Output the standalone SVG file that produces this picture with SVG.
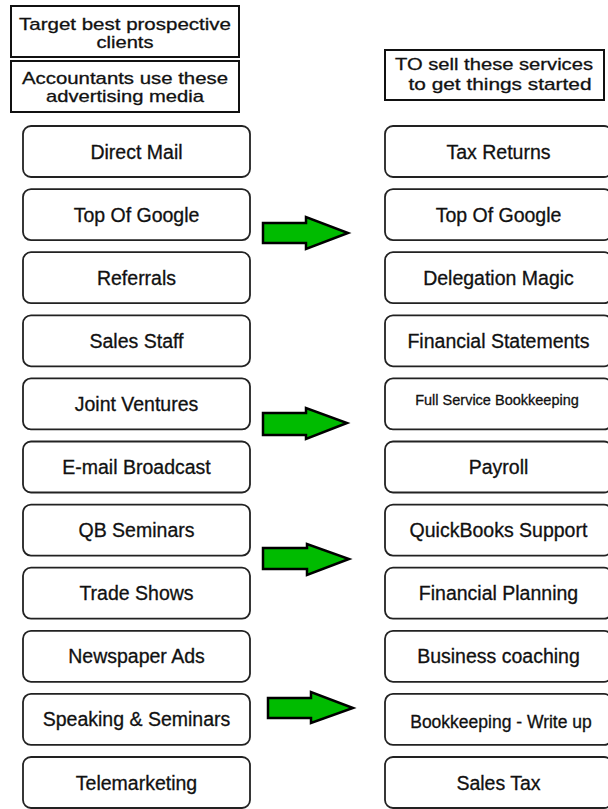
<svg xmlns="http://www.w3.org/2000/svg" width="608" height="809" viewBox="0 0 608 809">
<style>
.hdr{fill:#fff;stroke:#111;stroke-width:2}
.box{fill:#fff;stroke:#222;stroke-width:1.8}
text{font-family:"Liberation Sans",Arial,sans-serif;fill:#111;stroke:#111;stroke-width:0.3;text-anchor:middle}
.t{font-size:19.5px}
.h{font-size:17px}
.arr{fill:#00bb00;stroke:#000;stroke-width:2.5;stroke-linejoin:miter}
</style>
<rect width="608" height="809" fill="#fff"/>
<g id="header-left-1">
<rect class="hdr" x="11" y="6" width="228" height="51"/>
<text class="h" x="125" y="30" textLength="212" lengthAdjust="spacingAndGlyphs">Target best prospective</text>
<text class="h" x="125" y="48" textLength="57" lengthAdjust="spacingAndGlyphs">clients</text>
</g>
<g id="header-left-2">
<rect class="hdr" x="11" y="61" width="228" height="51"/>
<text class="h" x="125" y="84" textLength="206" lengthAdjust="spacingAndGlyphs">Accountants use these</text>
<text class="h" x="125" y="102" textLength="158" lengthAdjust="spacingAndGlyphs">advertising media</text>
</g>
<g id="header-right">
<rect class="hdr" x="385" y="50" width="219" height="50"/>
<text class="h" x="494" y="70" textLength="198" lengthAdjust="spacingAndGlyphs">TO sell these services</text>
<text class="h" x="500" y="90" textLength="183" lengthAdjust="spacingAndGlyphs">to get things started</text>
</g>
<g id="left-nodes">
<g id="l1"><rect class="box" x="23" y="126" width="227" height="51" rx="8"/><text class="t" x="136.5" y="158.5">Direct Mail</text></g>
<g id="l2"><rect class="box" x="23" y="189.1" width="227" height="51" rx="8"/><text class="t" x="136.5" y="221.6">Top Of Google</text></g>
<g id="l3"><rect class="box" x="23" y="252.2" width="227" height="51" rx="8"/><text class="t" x="136.5" y="284.7">Referrals</text></g>
<g id="l4"><rect class="box" x="23" y="315.3" width="227" height="51" rx="8"/><text class="t" x="136.5" y="347.8">Sales Staff</text></g>
<g id="l5"><rect class="box" x="23" y="378.4" width="227" height="51" rx="8"/><text class="t" x="136.5" y="410.9">Joint Ventures</text></g>
<g id="l6"><rect class="box" x="23" y="441.5" width="227" height="51" rx="8"/><text class="t" x="136.5" y="474">E-mail Broadcast</text></g>
<g id="l7"><rect class="box" x="23" y="504.6" width="227" height="51" rx="8"/><text class="t" x="136.5" y="537.1">QB Seminars</text></g>
<g id="l8"><rect class="box" x="23" y="567.7" width="227" height="51" rx="8"/><text class="t" x="136.5" y="600.2">Trade Shows</text></g>
<g id="l9"><rect class="box" x="23" y="630.8" width="227" height="51" rx="8"/><text class="t" x="136.5" y="663.3">Newspaper Ads</text></g>
<g id="l10"><rect class="box" x="23" y="693.9" width="227" height="51" rx="8"/><text class="t" x="136.5" y="726.4">Speaking &amp; Seminars</text></g>
<g id="l11"><rect class="box" x="23" y="757" width="227" height="51" rx="8"/><text class="t" x="136.5" y="789.5">Telemarketing</text></g>
</g>
<g id="right-nodes">
<g id="r1"><rect class="box" x="385" y="126" width="227" height="51" rx="8"/><text class="t" x="498.5" y="158.5">Tax Returns</text></g>
<g id="r2"><rect class="box" x="385" y="189.1" width="227" height="51" rx="8"/><text class="t" x="498.5" y="221.6">Top Of Google</text></g>
<g id="r3"><rect class="box" x="385" y="252.2" width="227" height="51" rx="8"/><text class="t" x="498.5" y="284.7">Delegation Magic</text></g>
<g id="r4"><rect class="box" x="385" y="315.3" width="227" height="51" rx="8"/><text class="t" x="498.5" y="347.8">Financial Statements</text></g>
<g id="r5"><rect class="box" x="385" y="378.4" width="227" height="51" rx="8"/><text x="497" y="405" style="font-size:14.5px">Full Service Bookkeeping</text></g>
<g id="r6"><rect class="box" x="385" y="441.5" width="227" height="51" rx="8"/><text class="t" x="498.5" y="474">Payroll</text></g>
<g id="r7"><rect class="box" x="385" y="504.6" width="227" height="51" rx="8"/><text class="t" x="498.5" y="537.1">QuickBooks Support</text></g>
<g id="r8"><rect class="box" x="385" y="567.7" width="227" height="51" rx="8"/><text class="t" x="498.5" y="600.2">Financial Planning</text></g>
<g id="r9"><rect class="box" x="385" y="630.8" width="227" height="51" rx="8"/><text class="t" x="498.5" y="663.3">Business coaching</text></g>
<g id="r10"><rect class="box" x="385" y="693.9" width="227" height="51" rx="8"/><text x="501" y="728" style="font-size:17.5px">Bookkeeping - Write up</text></g>
<g id="r11"><rect class="box" x="385" y="757" width="227" height="51" rx="8"/><text class="t" x="498.5" y="789.5">Sales Tax</text></g>
</g>
<g id="connectors">
<path class="arr" d="M263,223 H306 V217 L348,233 L306,249 V243 H263 Z"/>
<path class="arr" d="M263,413 H306 V408 L347,423 L306,439 V435 H263 Z"/>
<path class="arr" d="M263,548 H307 V544 L349,559 L307,575 V569 H263 Z"/>
<path class="arr" d="M268,698 H311 V692 L353,708 L311,723 V718 H268 Z"/>
</g>
</svg>
